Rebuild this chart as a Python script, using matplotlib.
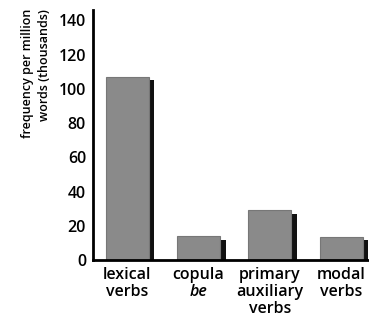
import matplotlib
matplotlib.use("Agg")
import matplotlib.pyplot as plt

categories = ["lexical", "copula", "primary", "modal"]
second_lines = ["verbs", "be", "auxiliary", "verbs"]
third_lines = ["", "", "verbs", ""]
values = [107, 14, 29, 13.5]
yticks = [0, 20, 40, 60, 80, 100, 120, 140]

plt.rcParams['font.family'] = ['Open Sans', 'DejaVu Sans']

fig = plt.figure(figsize=(3.69, 3.16), dpi=100)
ax = fig.add_axes([0.252, 0.177, 0.748, 0.791])

x = list(range(len(values)))
w = 0.6
# dark drop shadow on the right of each bar
ax.bar([i + 0.08 for i in x], [v - 2 for v in values], width=w,
       color='#111111', zorder=1)
ax.bar(x, values, width=w, color='#8a8a8a', edgecolor='#777777',
       linewidth=0.8, zorder=2)

ax.set_xlim(-0.48, 3.39)
ax.set_ylim(0, 146)
ax.set_yticks(yticks)
ax.set_yticklabels([str(t) for t in yticks], fontsize=11.5, fontweight='semibold')
ax.tick_params(axis='y', length=0, pad=5)
ax.set_xticks([])

for s in ['top', 'right']:
    ax.spines[s].set_visible(False)
ax.spines['left'].set_linewidth(2)
ax.spines['bottom'].set_linewidth(2)

lab_kw = dict(ha='center', va='baseline', fontsize=11.5, fontweight='semibold',
              transform=ax.get_xaxis_transform(), clip_on=False)
for i, (a, b, c) in enumerate(zip(categories, second_lines, third_lines)):
    ax.text(i, -0.076, a, **lab_kw)
    ax.text(i, -0.144, b, style='italic' if b == 'be' else 'normal', **lab_kw)
    if c:
        ax.text(i, -0.212, c, **lab_kw)

fig.text(0.097, 0.972, "frequency per million\nwords (thousands)", rotation=90,
         ha='center', va='top', multialignment='right', fontsize=9.0,
         fontweight='semibold', linespacing=1.4)

fig.savefig("out.png", dpi=100, facecolor='white')
